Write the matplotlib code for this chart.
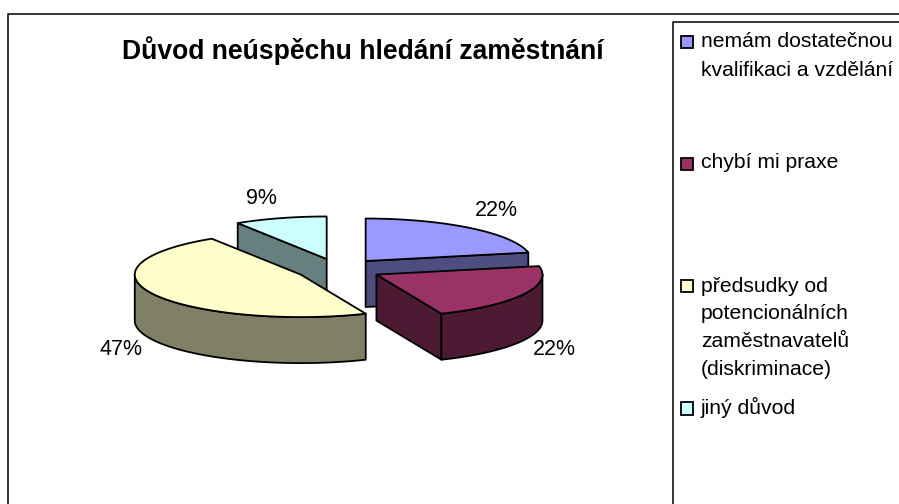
import numpy as np
import matplotlib
matplotlib.use("Agg")
import matplotlib.pyplot as plt
from matplotlib.patches import Polygon, Rectangle

plt.rcParams['font.family'] = ['Liberation Sans', 'DejaVu Sans']

title = "Důvod neúspěchu hledání zaměstnání"
values = [21.8, 21.8, 47.4, 9.0]
pct_labels = ["22%", "22%", "47%", "9%"]
legend_labels = ["nemám dostatečnou\nkvalifikaci a vzdělání",
                 "chybí mi praxe",
                 "předsudky od\npotencionálních\nzaměstnavatelů\n(diskriminace)",
                 "jiný důvod"]
top_colors = ["#9999FF", "#993366", "#FFFFCC", "#CCFFFF"]
side_colors = ["#4D4D80", "#4D1A33", "#808066", "#668080"]

label_pos = [(496, 216), (554.5, 355), (121.5, 355), (261.7, 204)]
legend_text_y = [[46.7, 76], [168], [291.7, 319, 347, 375], [414]]
legend_key_y = [41.5, 163.5, 285.5, 408]

W, H = 899, 504
fig = plt.figure(figsize=(W / 100, H / 100), dpi=100)
ax = fig.add_axes([0, 0, 1, 1])
ax.set_xlim(0, W)
ax.set_ylim(H, 0)
ax.axis("off")

CX, CY = 338.6, 269.5
RX, RY = 166.0, 42.5
DEPTH = 46.0
EXPLODE = 0.2575
LW = 1.3


def pt(theta, ox, oy, dz=0.0):
    return ox + RX * np.sin(theta), oy - RY * np.cos(theta) + dz


total = sum(values)
edges = np.deg2rad(np.cumsum([0] + values) / total * 360)
origins = []
for i in range(len(values)):
    mid = (edges[i] + edges[i + 1]) / 2
    origins.append((CX + EXPLODE * RX * np.sin(mid), CY - EXPLODE * RY * np.cos(mid)))


def draw_slice(i, z):
    a0, a1 = edges[i], edges[i + 1]
    ox, oy = origins[i]
    kw = dict(edgecolor="black", linewidth=LW, joinstyle="round", zorder=z)
    # vertical cut faces, drawn when their face is turned to the viewer
    for ang, visible in ((a1, a1 < np.pi), (a0, a0 > np.pi)):
        if visible:
            x, y = pt(ang, ox, oy)
            ax.add_patch(Polygon([(ox, oy), (x, y), (x, y + DEPTH), (ox, oy + DEPTH)],
                                 facecolor=side_colors[i], **kw))
    # outer rim, lower half of the ellipse only
    lo, hi = max(a0, np.pi / 2), min(a1, 3 * np.pi / 2)
    if hi > lo:
        t = np.linspace(lo, hi, 120)
        xs, ys = pt(t, ox, oy)
        rim = list(zip(xs, ys)) + list(zip(xs[::-1], ys[::-1] + DEPTH))
        ax.add_patch(Polygon(rim, facecolor=side_colors[i], **kw))
    # top surface
    t = np.linspace(a0, a1, 160)
    xs, ys = pt(t, ox, oy)
    ax.add_patch(Polygon([(ox, oy)] + list(zip(xs, ys)), facecolor=top_colors[i], **kw))


for z, i in enumerate([3, 0, 2, 1]):
    draw_slice(i, 3 + z)

for s, (x, y) in zip(pct_labels, label_pos):
    ax.text(x, y, s, fontsize=15.5, ha="center", va="baseline", color="black", zorder=10)

ax.text(362.5, 59, title, fontsize=19.1, fontweight="bold", ha="center", va="baseline", color="black")

# outer chart frame and legend frame, both cropped by the image edge
ax.plot([8.3, 8.3, W], [H, 13.5, 13.5], color="black", lw=1.1, clip_on=True, zorder=1)
ax.plot([672.7, 672.7, W], [H, 21.7, 21.7], color="black", lw=1.1, clip_on=True, zorder=1)

for label, ys, ky, col in zip(legend_labels, legend_text_y, legend_key_y, top_colors):
    ax.add_patch(Rectangle((680.5, ky - 6), 12.5, 12.5, facecolor=col, edgecolor="black", lw=1.3, zorder=5))
    for line, y in zip(label.split("\n"), ys):
        ax.text(701, y, line, fontsize=15.25, ha="left", va="baseline", color="black", clip_on=True)

fig.savefig("out.png", dpi=100)
